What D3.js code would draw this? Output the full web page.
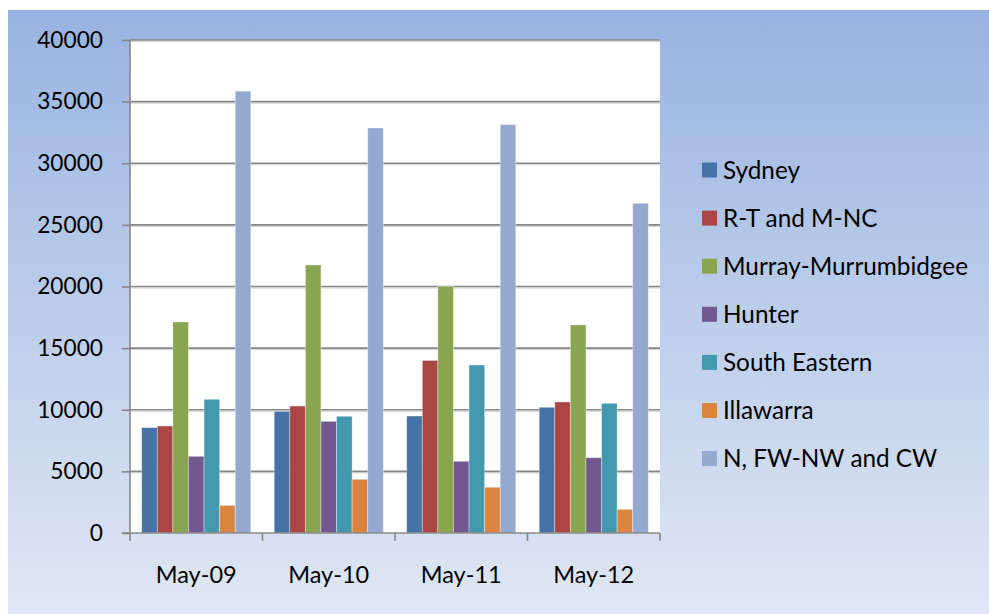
<!DOCTYPE html>
<html>
<head>
<meta charset="utf-8">
<script src="https://cdn.jsdelivr.net/npm/d3@7"></script>
<style>
  html, body { margin: 0; padding: 0; background: #ffffff; }
  svg { display: block; }
  text { font-family: Lato, "Open Sans", sans-serif; fill: #000; }
</style>
</head>
<body>
<svg id="chart" width="989" height="614"></svg>
<script>
// Periods along the x axis
const categories = ["May-09", "May-10", "May-11", "May-12"];

// Regions (one bar series each)
const seriesNames = ["Sydney", "R-T and M-NC", "Murray-Murrumbidgee", "Hunter",
                     "South Eastern", "Illawarra", "N, FW-NW and CW"];
const seriesColors = ["#4572a7", "#aa4643", "#89a54e", "#71588f",
                      "#4198af", "#db843d", "#93a9cf"];

// Values per region, in period order
const sydney      = [8550, 9870, 9490, 10200];
const rtMnc       = [8680, 10300, 14000, 10630];
const murray      = [17120, 21750, 20000, 16880];
const hunter      = [6220, 9060, 5820, 6110];
const southEast   = [10850, 9470, 13630, 10520];
const illawarra   = [2240, 4360, 3710, 1920];
const nFwNwCw     = [35850, 32860, 33130, 26750];

const yTicks = [0, 5000, 10000, 15000, 20000, 25000, 30000, 35000, 40000];

const seriesValues = [sydney, rtMnc, murray, hunter, southEast, illawarra, nFwNwCw];

const svg = d3.select("#chart");
const W = 989, H = 614;

// Chart area background gradient
const defs = svg.append("defs");
const grad = defs.append("linearGradient")
  .attr("id", "bg").attr("x1", 0).attr("y1", 0).attr("x2", 0).attr("y2", 1);
grad.append("stop").attr("offset", "0%").attr("stop-color", "#98b3e1");
grad.append("stop").attr("offset", "100%").attr("stop-color", "#e0e7f4");

svg.append("rect")
  .attr("x", 8).attr("y", 10).attr("width", W - 8).attr("height", H - 10)
  .attr("fill", "url(#bg)");

// Plot area
const plot = { left: 130, top: 40, right: 660, bottom: 533 };
svg.append("rect")
  .attr("x", plot.left).attr("y", plot.top)
  .attr("width", plot.right - plot.left).attr("height", plot.bottom - plot.top)
  .attr("fill", "#ffffff");

const y = d3.scaleLinear().domain([0, 40000]).range([plot.bottom, plot.top]);
const x0 = d3.scaleBand().domain(categories).range([plot.left, plot.right]).paddingInner(0).paddingOuter(0);
// 7 bars with a gap of 1.5 bar widths per category
const barW = x0.bandwidth() / (seriesNames.length + 1.5);
const x1 = d3.scaleBand().domain(seriesNames)
  .range([barW * 0.75, barW * 0.75 + barW * seriesNames.length]).padding(0);

// Gridlines with a soft shadow
const grid = svg.append("g");
yTicks.filter(t => t > 0).forEach(t => {
  grid.append("line")
    .attr("x1", plot.left).attr("x2", plot.right)
    .attr("y1", y(t) + 1.5).attr("y2", y(t) + 1.5)
    .attr("stroke", "#cfcfcf").attr("stroke-width", 1);
  grid.append("line")
    .attr("x1", plot.left).attr("x2", plot.right)
    .attr("y1", y(t)).attr("y2", y(t))
    .attr("stroke", "#878787").attr("stroke-width", 1.6);
});

// Bars
const groups = svg.append("g").selectAll("g")
  .data(categories)
  .join("g")
  .attr("transform", d => `translate(${x0(d)},0)`);

groups.selectAll("rect")
  .data((c, ci) => seriesNames.map((s, si) => ({ s, si, v: seriesValues[si][ci] })))
  .join("rect")
  .attr("x", d => x1(d.s))
  .attr("y", d => y(d.v))
  .attr("width", x1.bandwidth())
  .attr("height", d => y(0) - y(d.v))
  .attr("fill", d => seriesColors[d.si])
  .attr("stroke", "rgba(255,255,255,0.45)")
  .attr("stroke-width", 0.8);

// Y axis
const yAxis = svg.append("g")
  .attr("transform", `translate(${plot.left},0)`)
  .call(d3.axisLeft(y).tickValues(yTicks).tickSize(8).tickPadding(19).tickFormat(d3.format("d")));
yAxis.select(".domain").attr("stroke", "#878787").attr("stroke-width", 1.6)
  .attr("d", `M0,${plot.top}V${plot.bottom}`);
yAxis.selectAll(".tick line").attr("stroke", "#878787").attr("stroke-width", 1.6);
yAxis.selectAll(".tick text").style("font-size", "22.7px").style("font-family", "Lato, 'Open Sans', sans-serif").attr("fill", "#000");

// X axis with boundary ticks
const xAxis = svg.append("g")
  .attr("transform", `translate(0,${plot.bottom})`);
xAxis.append("line")
  .attr("x1", plot.left - 8).attr("x2", plot.right)
  .attr("y1", 0).attr("y2", 0)
  .attr("stroke", "#878787").attr("stroke-width", 1.6);
const bounds = categories.map(c => x0(c)).concat([plot.right]);
xAxis.selectAll("line.bt").data(bounds).join("line")
  .attr("class", "bt")
  .attr("x1", d => d).attr("x2", d => d)
  .attr("y1", 0).attr("y2", 8)
  .attr("stroke", "#878787").attr("stroke-width", 1.6);
xAxis.selectAll("text").data(categories).join("text")
  .attr("x", d => x0(d) + x0.bandwidth() / 2)
  .attr("y", 50)
  .attr("text-anchor", "middle")
  .style("font-size", "23.5px")
  .text(d => d);

// Legend
const legend = svg.append("g").attr("transform", "translate(702,170)");
const rowH = 48.1;
const item = legend.selectAll("g").data(seriesNames).join("g")
  .attr("transform", (d, i) => `translate(0,${i * rowH})`);
item.append("rect")
  .attr("x", 0).attr("y", -7.5).attr("width", 15).attr("height", 15)
  .attr("fill", (d, i) => seriesColors[i]);
item.append("text")
  .attr("x", 21).attr("y", 0).attr("dy", "0.35em")
  .style("font-size", "24.3px")
  .text(d => d);
</script>
</body>
</html>
